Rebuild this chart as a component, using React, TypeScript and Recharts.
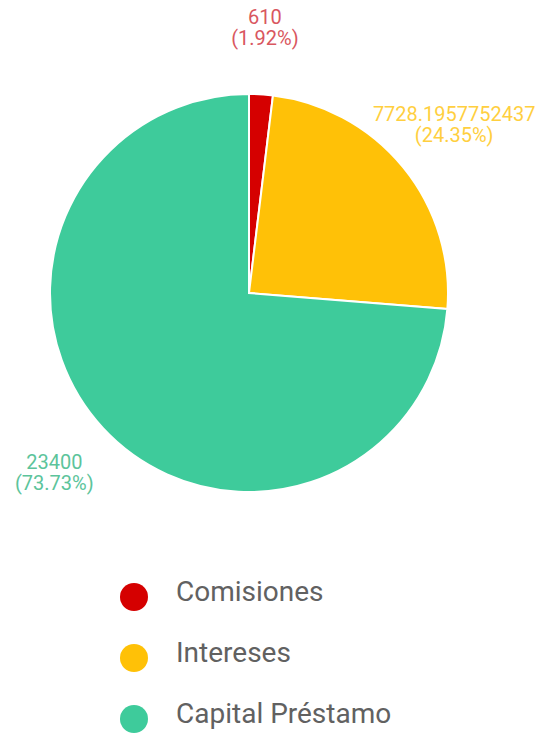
import { Pie, PieChart, Cell } from "recharts";

const categories = ["Comisiones", "Intereses", "Capital Préstamo"];
const amounts = [610, 7728.1957752437, 23400];
const percents = ["1.92%", "24.35%", "73.73%"];
const colors = ["#d50000", "#ffc107", "#3ecb9b"];
const labelColors = ["#d9575f", "#ffcf3f", "#5cc49b"];

const RADIAN = Math.PI / 180;

export default function App(): JSX.Element {
  const data = categories.map((name, i) => ({ name, value: amounts[i], pct: percents[i] }));

  // two-line label: raw value, then share in brackets
  const renderLabel = (props: any) => {
    const { cx, cy, midAngle, index } = props;
    const r = 265;
    const x = cx + r * Math.cos(-midAngle * RADIAN);
    const y = cy + r * Math.sin(-midAngle * RADIAN);
    return (
      <text x={x} y={y} textAnchor="middle" fill={labelColors[index]} fontSize={20} fontFamily="Roboto">
        <tspan x={x} dy={-4}>{String(amounts[index])}</tspan>
        <tspan x={x} dy={21}>({percents[index]})</tspan>
      </text>
    );
  };

  return (
    <div style={{ position: "absolute", left: 0, top: 0, width: 555, height: 735, background: "#fff", overflow: "hidden" }}>
      <PieChart width={555} height={560} margin={{ top: 0, right: 0, bottom: 0, left: 0 }}>
        <Pie
          data={data}
          dataKey="value"
          nameKey="name"
          cx={249}
          cy={293}
          outerRadius={199}
          startAngle={90}
          endAngle={-270}
          stroke="#ffffff"
          strokeWidth={2}
          label={renderLabel}
          labelLine={false}
          isAnimationActive={false}
        >
          {data.map((d, i) => (
            <Cell key={d.name} fill={colors[i]} />
          ))}
        </Pie>
      </PieChart>
      <div style={{ position: "absolute", top: 566, left: 0, width: 555, fontFamily: "Roboto", color: "#616161" }}>
        {categories.map((c, i) => (
          <div key={c} style={{ position: "relative", height: 61 }}>
            <span
              style={{
                position: "absolute",
                left: 120,
                top: 17,
                width: 28,
                height: 28,
                borderRadius: 14,
                background: colors[i],
              }}
            />
            <span style={{ position: "absolute", left: 176, top: 8, fontSize: 28, lineHeight: "36px" }}>{c}</span>
          </div>
        ))}
      </div>
    </div>
  );
}
